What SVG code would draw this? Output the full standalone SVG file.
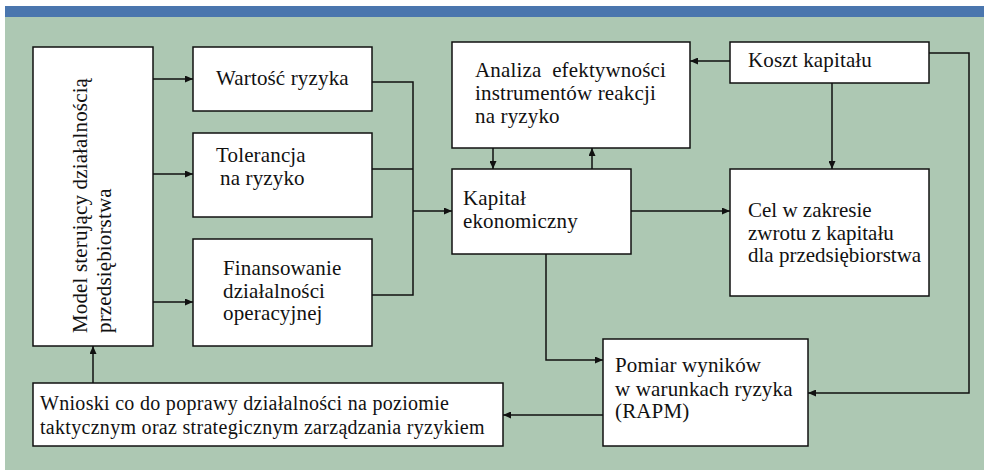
<svg xmlns="http://www.w3.org/2000/svg" width="984" height="470" viewBox="0 0 984 470">
<style>
.box{fill:#fff;stroke:#111;stroke-width:1.5}
.t{font-family:'Liberation Serif','Times New Roman',serif;font-size:21px;letter-spacing:0.15px;fill:#111}
.s{font-size:20px;letter-spacing:0.3px}
.n{letter-spacing:0}
.c{fill:none;stroke:#111;stroke-width:1.5}
</style>
<defs>
<marker id="ah" markerUnits="userSpaceOnUse" markerWidth="8" markerHeight="7" refX="8" refY="3.5" orient="auto">
<path d="M0,0 L8,3.5 L0,7 z" fill="#111"/>
</marker>
</defs>
<rect x="0" y="0" width="984" height="470" fill="#fff"/>
<rect x="5" y="6" width="979" height="11" fill="#4a76ae"/>
<rect x="5" y="17" width="979" height="453" fill="#adc8b3"/>

<g id="connectors">
<path class="c" d="M153,79 H193" marker-end="url(#ah)"/>
<path class="c" d="M153,174 H193" marker-end="url(#ah)"/>
<path class="c" d="M153,302 H193" marker-end="url(#ah)"/>
<path class="c" d="M372,82 H413 V295 H372"/>
<path class="c" d="M372,169 H413"/>
<path class="c" d="M413,211 H452" marker-end="url(#ah)"/>
<path class="c" d="M493,148 V169" marker-end="url(#ah)"/>
<path class="c" d="M592,169 V148" marker-end="url(#ah)"/>
<path class="c" d="M730,61 H690" marker-end="url(#ah)"/>
<path class="c" d="M832,83 V169" marker-end="url(#ah)"/>
<path class="c" d="M631,211 H730" marker-end="url(#ah)"/>
<path class="c" d="M546,254 V360 H603" marker-end="url(#ah)"/>
<path class="c" d="M929,53 H969 V393 H808" marker-end="url(#ah)"/>
<path class="c" d="M603,415 H503" marker-end="url(#ah)"/>
<path class="c" d="M93,383 V346" marker-end="url(#ah)"/>
</g>

<g id="model">
<rect class="box" x="33" y="47" width="120" height="299"/>
<text class="t" transform="translate(87,333) rotate(-90)">Model sterujący działalnością</text>
<text class="t" transform="translate(111,333) rotate(-90)">przedsiębiorstwa</text>
</g>
<g id="wartosc">
<rect class="box" x="193" y="47" width="179" height="64"/>
<text class="t" x="216" y="85">Wartość ryzyka</text>
</g>
<g id="tolerancja">
<rect class="box" x="193" y="133" width="179" height="84"/>
<text class="t" x="216" y="162">Tolerancja</text>
<text class="t" x="220" y="185">na ryzyko</text>
</g>
<g id="finansowanie">
<rect class="box" x="193" y="239" width="179" height="107"/>
<text class="t" x="223" y="275">Finansowanie</text>
<text class="t" x="223" y="298">działalności</text>
<text class="t" x="223" y="320">operacyjnej</text>
</g>
<g id="analiza">
<rect class="box" x="452" y="42" width="238" height="106"/>
<text class="t" x="475" y="77" xml:space="preserve">Analiza  efektywności</text>
<text class="t" x="475" y="100">instrumentów reakcji</text>
<text class="t" x="475" y="123">na ryzyko</text>
</g>
<g id="koszt">
<rect class="box" x="730" y="42" width="199" height="41"/>
<text class="t" x="748" y="67">Koszt kapitału</text>
</g>
<g id="kapital">
<rect class="box" x="452" y="169" width="179" height="85"/>
<text class="t" x="463" y="205">Kapitał</text>
<text class="t" x="463" y="228">ekonomiczny</text>
</g>
<g id="cel">
<rect class="box" x="730" y="169" width="199" height="127"/>
<text class="t n" x="748" y="217">Cel w zakresie</text>
<text class="t n" x="748" y="240">zwrotu z kapitału</text>
<text class="t n" x="748" y="262">dla przedsiębiorstwa</text>
</g>
<g id="pomiar">
<rect class="box" x="603" y="339" width="205" height="107"/>
<text class="t" x="615" y="372">Pomiar wyników</text>
<text class="t" x="615" y="396">w warunkach ryzyka</text>
<text class="t" x="615" y="418">(RAPM)</text>
</g>
<g id="wnioski">
<rect class="box" x="33" y="383" width="470" height="63"/>
<text class="t s" x="40" y="410">Wnioski co do poprawy działalności na poziomie</text>
<text class="t s" x="40" y="434">taktycznym oraz strategicznym zarządzania ryzykiem</text>
</g>
</svg>
